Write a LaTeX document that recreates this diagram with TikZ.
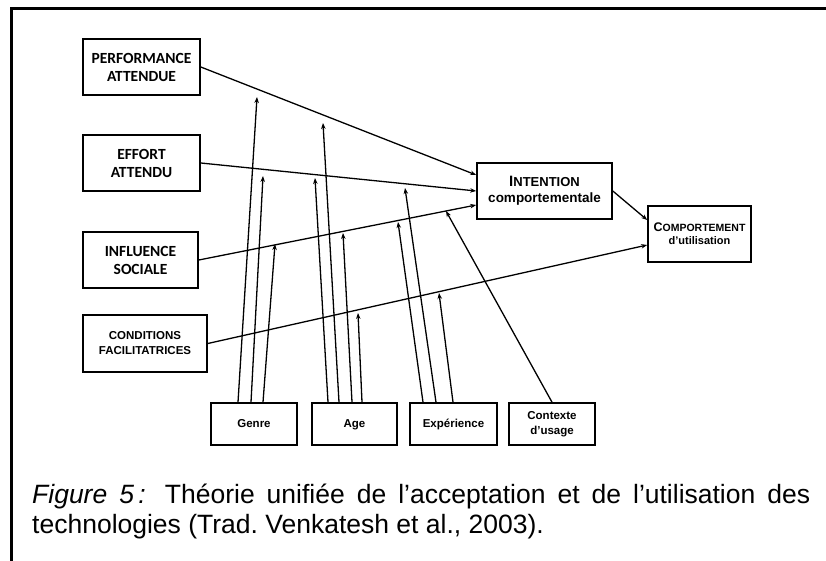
\documentclass[tikz,border=0pt]{standalone}
\usepackage{fontspec}
\setmainfont{Liberation Sans}
\newfontfamily\calibfont{Carlito}
\usepackage{tikz}
\usetikzlibrary{arrows.meta,positioning}

\begin{document}
\begin{tikzpicture}[x=1pt, y=-1pt,
    factor/.style={draw, line width=1.6pt, inner sep=0pt, align=center, font=\calibfont\bfseries\fontsize{15.5}{18}\selectfont},
    outbox/.style={draw, line width=1.6pt, inner sep=0pt, align=center, font=\bfseries\fontsize{11.5}{15}\selectfont},
    modbox/.style={draw, line width=1.6pt, inner sep=0pt, align=center, minimum width=86pt, minimum height=42pt, font=\bfseries\fontsize{11.5}{15}\selectfont},
    oneline/.style={text height=8.5pt, text depth=2.5pt},
    conn/.style={line width=1.3pt, -{Stealth[length=6pt,width=4.5pt]}}]
    \useasboundingbox (0,0) rectangle (826,561);
    % frame
    \draw[line width=2.5pt] (826,8.7) -- (11.5,8.7) -- (11.5,561);

    % determinants
    \node[factor, minimum width=117pt, minimum height=56pt] (perf) at (141.5,67) {PERFORMANCE\\ATTENDUE};
    \node[factor, minimum width=117pt, minimum height=56pt] (effort) at (141.5,163) {EFFORT\\ATTENDU};
    \node[factor, minimum width=115pt, minimum height=56pt] (influence) at (140.5,260) {INFLUENCE\\SOCIALE};
    \node[outbox, minimum width=124pt, minimum height=57pt] (conditions) at (145,343.5) {CONDITIONS\\FACILITATRICES};

    % intention and behaviour
    \node[outbox, minimum width=135pt, minimum height=56pt, font=\bfseries\fontsize{13.5}{16}\selectfont] (intention) at (544.5,191)
        {{\fontsize{15}{16}\selectfont I}{\fontsize{13}{16}\selectfont NTENTION}\\comportementale};
    \node[outbox, minimum width=103pt, minimum height=56pt, font=\bfseries\fontsize{11}{13}\selectfont] (comport) at (699.5,234)
        {{\fontsize{12.5}{13}\selectfont C}{\fontsize{10.5}{13}\selectfont OMPORTEMENT}\\d’utilisation};

    % moderators
    \node[modbox, oneline] (genre) at (254,424) {Genre};
    \node[modbox, oneline, minimum width=85pt] (age) at (354.5,424) {Age};
    \node[modbox, oneline, minimum width=87pt] (exper) at (453.5,424) {Expérience};
    \node[modbox] (contexte) at (552,424) {Contexte\\d’usage};

    % main paths
    \draw[conn] (perf.east) -- ([yshift=16pt]intention.west);
    \draw[conn] (effort.east) -- (intention.west);
    \draw[conn] (influence.east) -- ([yshift=-14pt]intention.west);
    \draw[conn] (conditions.east) -- ([yshift=-11pt]comport.west);
    \draw[conn] (intention.east) -- ([yshift=14pt]comport.west);

    % moderating effects
    \coordinate (gP) at (257,97);
    \coordinate (gE) at (263,176);
    \coordinate (gI) at (275,244);
    \coordinate (aP) at (323,123);
    \coordinate (aE) at (315,178);
    \coordinate (aI) at (343,233);
    \coordinate (aC) at (358,313);
    \coordinate (eI) at (398,222);
    \coordinate (eE) at (405,188);
    \coordinate (eC) at (439,293);
    \coordinate (cI) at (446,211);
    \draw[conn] ([xshift=-16pt]genre.north) -- (gP);
    \draw[conn] ([xshift=-3pt]genre.north) -- (gE);
    \draw[conn] ([xshift=9pt]genre.north) -- (gI);
    \draw[conn] ([xshift=-15.5pt]age.north) -- (aP);
    \draw[conn] ([xshift=-26.5pt]age.north) -- (aE);
    \draw[conn] ([xshift=-2.5pt]age.north) -- (aI);
    \draw[conn] ([xshift=7.5pt]age.north) -- (aC);
    \draw[conn] ([xshift=-30.5pt]exper.north) -- (eI);
    \draw[conn] ([xshift=-17.5pt]exper.north) -- (eE);
    \draw[conn] ([xshift=-0.5pt]exper.north) -- (eC);
    \draw[conn] (contexte.north) -- (cI);

    % caption
    \node[anchor=base west, inner sep=0pt, font=\fontsize{26.5}{30.5}\selectfont] (capA) at (32,503)
        {\makebox[778pt][s]{\textit{Figure 5\,:} Théorie unifiée de l’acceptation et de l’utilisation des}};
    \node[anchor=base west, inner sep=0pt, font=\fontsize{26.5}{30.5}\selectfont] (capB) at (32,533)
        {\frenchspacing technologies (Trad. Venkatesh et al., 2003).};
\end{tikzpicture}
\end{document}
